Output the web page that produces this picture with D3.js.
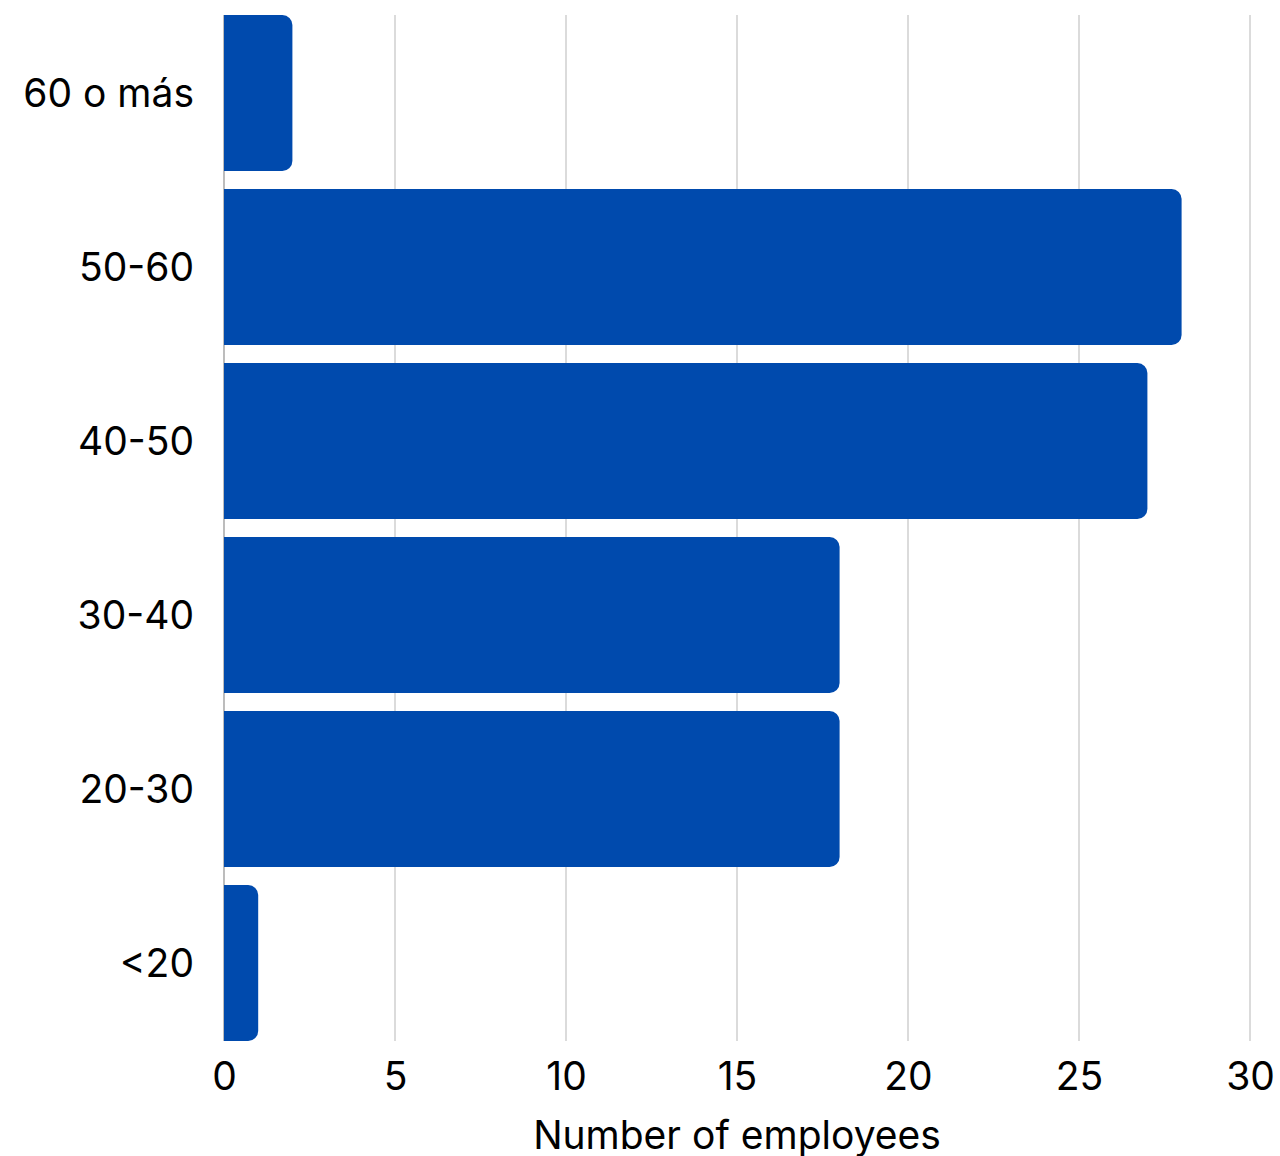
<!DOCTYPE html>
<html lang="en">
<head>
    <meta charset="UTF-8">
    <title>Employees by age</title>
    <script src="https://cdnjs.cloudflare.com/ajax/libs/d3/7.8.5/d3.min.js"></script>
    <style>
        body {
            margin: 0;
            background: #fff;
        }
        svg {
            display: block;
            font-family: Inter, "Noto Sans", sans-serif;
        }
    </style>
</head>
<body>
<svg id="chart" width="1280" height="1156"></svg>
<script>
    // age groups, top to bottom
    const ageGroups = ["60 o más", "50-60", "40-50", "30-40", "20-30", "<20"];
    const employees = [2, 28, 27, 18, 18, 1];
    const xTicks = [0, 5, 10, 15, 20, 25, 30];
    const xTitle = "Number of employees";

    const width = 1280, height = 1156;
    const margin = {top: 6, right: 30, bottom: 106, left: 224};
    const barColor = "#004aad";
    const radius = 10;
    const fontSize = 39;

    const svg = d3.select("#chart");

    const x = d3.scaleLinear()
        .domain([0, 30])
        .range([margin.left, width - margin.right]);

    const y = d3.scaleBand()
        .domain(ageGroups)
        .range([margin.top, height - margin.bottom])
        .paddingInner(18 / 174)
        .paddingOuter(9 / 174);

    const gridTop = y(ageGroups[0]);
    const gridBottom = y(ageGroups[ageGroups.length - 1]) + y.bandwidth();

    // vertical gridlines
    svg.append("g")
        .selectAll("line")
        .data(xTicks)
        .join("line")
        .attr("x1", d => x(d))
        .attr("x2", d => x(d))
        .attr("y1", gridTop)
        .attr("y2", gridBottom)
        .attr("stroke", d => d === 0 ? "#999999" : "#c8c8c8")
        .attr("stroke-width", 1.3);

    // bars, rounded on the right end only
    function barPath(d, i) {
        const x0 = x(0), x1 = x(d);
        const y0 = y(ageGroups[i]), h = y.bandwidth();
        const r = Math.min(radius, (x1 - x0) / 2, h / 2);
        return `M${x0},${y0}H${x1 - r}A${r},${r} 0 0 1 ${x1},${y0 + r}` +
            `V${y0 + h - r}A${r},${r} 0 0 1 ${x1 - r},${y0 + h}H${x0}Z`;
    }

    svg.append("g")
        .selectAll("path")
        .data(employees)
        .join("path")
        .attr("d", barPath)
        .attr("fill", barColor);

    // x axis
    const xAxis = svg.append("g")
        .attr("transform", `translate(0,${gridBottom})`)
        .call(d3.axisBottom(x).tickValues(xTicks).tickSize(0).tickPadding(21));
    xAxis.select(".domain").remove();
    xAxis.selectAll("text")
        .attr("font-family", "Inter, 'Noto Sans', sans-serif")
        .attr("font-size", fontSize)
        .attr("fill", "#000");

    // y axis
    const yAxis = svg.append("g")
        .attr("transform", `translate(${margin.left},2)`)
        .call(d3.axisLeft(y).tickSize(0).tickPadding(30));
    yAxis.select(".domain").remove();
    yAxis.selectAll("text")
        .attr("font-family", "Inter, 'Noto Sans', sans-serif")
        .attr("font-size", fontSize)
        .attr("fill", "#000");

    // axis title
    svg.append("text")
        .attr("x", (x(0) + x(30)) / 2)
        .attr("y", 1149)
        .attr("text-anchor", "middle")
        .attr("font-size", fontSize)
        .attr("fill", "#000")
        .text(xTitle);
</script>
</body>
</html>
